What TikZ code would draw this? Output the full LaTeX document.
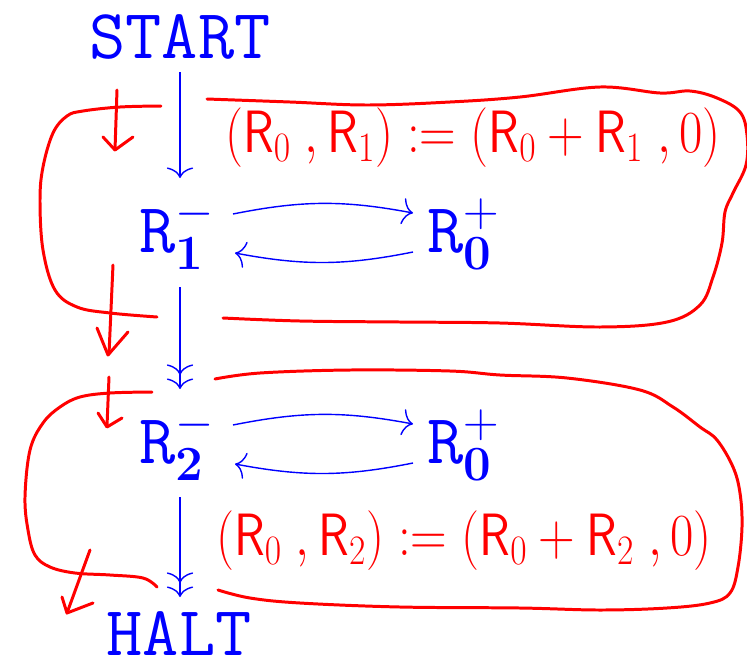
\RequirePackage{fix-cm}
\documentclass[tikz,border=0pt]{standalone}
\usepackage{amsmath}
\usepackage{graphicx}
\usepackage{xcolor}
\usepackage{tikz}
\usetikzlibrary{arrows.meta,calc,positioning}

\begin{document}
\begin{tikzpicture}[x=0.02cm, y=-0.02cm,
  reg/.style={blue, inner sep=0pt, font=\fontsize{40}{48}\selectfont},
  flow/.style={blue, line width=0.8pt, -{Computer Modern Rightarrow[length=6pt,width=15pt]}},
  flowtwo/.style={blue, line width=0.8pt, -{Computer Modern Rightarrow[length=6pt,width=15pt,sep=2pt]Computer Modern Rightarrow[length=6pt,width=15pt]}},
  ink/.style={red, line width=1.7pt, line cap=round, line join=round},
  note/.style={red, inner sep=0pt, font=\fontsize{34}{40}\selectfont}]

\useasboundingbox (0,0) rectangle (747,660);

% ---------------- 1. PROGRAM NODES ----------------
\node[reg, anchor=base] (start) at (180,58) {\texttt{START}};
\node[reg, anchor=base west] (r1m) at (139,252) {$\mathtt{R}^{-}_{\mathbf{1}}$};
\node[reg, anchor=base west] (r0a) at (427,252) {$\mathtt{R}^{+}_{\mathbf{0}}$};
\node[reg, anchor=base west] (r2m) at (139,463) {$\mathtt{R}^{-}_{\mathbf{2}}$};
\node[reg, anchor=base west] (r0b) at (427,463) {$\mathtt{R}^{+}_{\mathbf{0}}$};
\node[reg, anchor=base] (halt) at (179,655) {\texttt{HALT}};

% ---------------- 2. FLOW ARROWS ----------------
\draw[flow] ($(start.south)+(0,13)$) -- ($(r1m.base west)+(41,-74)$);
\draw[flowtwo] ($(r1m.base west)+(41,35)$) -- ($(r2m.base west)+(41,-74)$);
\draw[flowtwo] ($(r2m.base west)+(41,34)$) -- ($(halt.base)+(1,-58)$);

% Loops between the two registers
\draw[flow] ($(r1m.base west)+(94,-38)$) to[bend left=11] ($(r0a.base west)+(-14,-39)$);
\draw[flow] ($(r0a.base west)+(-14,0)$) to[bend left=11] ($(r1m.base west)+(96,1)$);
\draw[flow] ($(r2m.base west)+(94,-38)$) to[bend left=11] ($(r0b.base west)+(-14,-39)$);
\draw[flow] ($(r0b.base west)+(-14,0)$) to[bend left=11] ($(r2m.base west)+(96,1)$);

% ---------------- 3. HAND-DRAWN MACROS (red) ----------------
\node[note] (rule1) at (473,138) {\scalebox{0.85}[1]{$(\mathsf{R}_0\;,\mathsf{R}_1):=(\mathsf{R}_0+\mathsf{R}_1\;,0)$}};
\node[note] (rule2) at (464,541) {\scalebox{0.85}[1]{$(\mathsf{R}_0\;,\mathsf{R}_2):=(\mathsf{R}_0+\mathsf{R}_2\;,0)$}};

% Upper loop
\draw[ink] plot[smooth, tension=0.6] coordinates {(207,99) (290,102) (367,105) (450,102) (520,97)
  (600,87) (660,93) (690,91) (717,98) (740,112) (747,135) (746,165) (733,193) (725,212)
  (722,243) (713,277) (700,305) (667,322) (600,327) (500,323) (400,322) (300,321) (223,318)};
\draw[ink] plot[smooth, tension=0.6] coordinates {(161,106) (120,107) (83,111) (67,116) (53,133)
  (43,167) (40,200) (43,250) (55,290) (77,307) (110,313) (157,317)};

% Lower loop
\draw[ink] plot[smooth, tension=0.6] coordinates {(215,379) (260,373) (350,370) (450,371) (500,375)
  (567,378) (640,390) (673,407) (700,427) (717,440) (733,467) (740,493) (742,527) (738,567)
  (730,593) (710,603) (667,608) (600,610) (520,608) (400,607) (300,603) (250,598) (218,590)};
\draw[ink] plot[smooth, tension=0.6] coordinates {(152,392) (110,393) (80,397) (60,407) (43,423)
  (30,450) (25,497) (28,530) (35,555) (50,567) (75,573) (110,575) (143,578) (157,587)};

% Small entry / exit arrows
\draw[ink] (117,90) -- (115,150);
\draw[ink] (103,137) -- (115,150) -- (133,137);
\draw[ink] (113,265) -- (109,354);
\draw[ink] (97,328) -- (108,355) -- (128,332);
\draw[ink] (109,377) -- (107,426);
\draw[ink] (98,413) -- (107,427) -- (122,418);
\draw[ink] (90,550) -- (67,613);
\draw[ink] (62,597) -- (67,613) -- (93,603);

\end{tikzpicture}
\end{document}
